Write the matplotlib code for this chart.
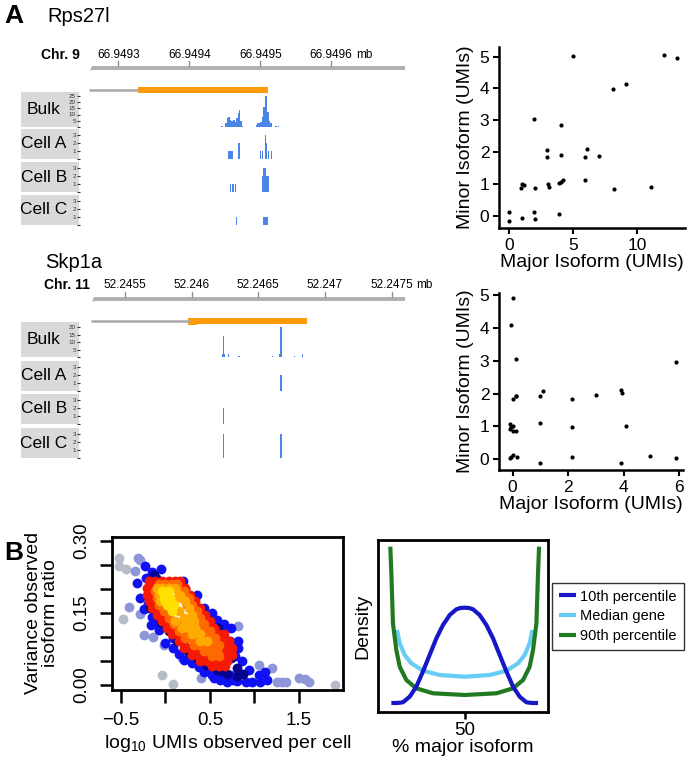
import numpy as np
import matplotlib.pyplot as plt
from matplotlib.patches import Rectangle, Polygon

plt.rcParams['font.family'] = ['Liberation Sans', 'DejaVu Sans']
plt.rcParams['mathtext.fontset'] = 'custom'
plt.rcParams['mathtext.rm'] = 'Liberation Sans'
plt.rcParams['mathtext.it'] = 'Liberation Sans:italic'

W, H = 689, 761
fig = plt.figure(figsize=(W / 100, H / 100), dpi=100)

BAR_BLUE = '#4a86e8'
ORANGE = '#ff9a0a'
AXIS_GREY = '#aeb1b1'
LINE_GREY = '#a9a9a9'
BOX_GREY = '#d9d9d9'

# ---------------- data: Rps27l (chr 9, bp) ----------------
rps_view = [66949246, 66949711]
rps_axis = [66949263, 66949704]
rps_ticks = [66949300, 66949400, 66949500, 66949600]
rps_tick_labels = ['66.9493', '66.9494', '66.9495', '66.9496']
rps_tx = [66949258, 66949511]
rps_exon = [66949328, 66949511]
rps_exon_thick = [66949328, 66949362]

rps_bulk_pos = [66949446, 66949452, 66949454, 66949456, 66949458, 66949460, 66949461,
                66949463, 66949465, 66949467, 66949469, 66949471, 66949473, 66949474,
                66949495, 66949497, 66949499, 66949501, 66949503, 66949505, 66949507,
                66949508, 66949509, 66949511, 66949513, 66949515, 66949516, 66949522,
                66949526]
rps_bulk_cov = [1, 3, 7, 8, 6, 5, 5, 6, 4, 7, 11, 14, 5, 1,
                2, 3, 3, 4, 8, 16, 21, 25, 19, 12, 5, 3, 2, 1, 1]

rps_a_start = [66949454, 66949469, 66949499, 66949502, 66949506, 66949508, 66949511, 66949515]
rps_a_width = [8, 3, 2, 2.5, 1.5, 2, 1.5, 1.5]
rps_a_umis = [1, 2, 1, 1, 3, 2, 1, 1]
rps_b_start = [66949457, 66949460, 66949462, 66949465, 66949502, 66949504, 66949506,
               66949508, 66949510]
rps_b_width = [1.3, 1.3, 1.3, 1.3, 2, 2, 2, 2, 2]
rps_b_umis = [1, 1, 1, 1, 2, 3, 3, 2, 2]
rps_c_start = [66949466, 66949504]
rps_c_width = [1.3, 7.5]
rps_c_umis = [1, 1]

# ---------------- data: Skp1a (chr 11, bp) ----------------
skp_view = [52245162, 52247638]
skp_axis = [52245267, 52247600]
skp_ticks = [52245500, 52246000, 52246500, 52247000, 52247500]
skp_tick_labels = ['52.2455', '52.246', '52.2465', '52.247', '52.2475']
skp_tx = [52245245, 52246865]
skp_exon = [52245988, 52246865]
skp_exon_thick = [52245975, 52246040]

skp_bulk_pos = [52246228, 52246237, 52246245, 52246275, 52246355, 52246605,
                52246660, 52246670, 52246768, 52246833]
skp_bulk_cov = [2, 14, 2, 2, 1, 1, 2, 20, 1, 2]
skp_a_pos = [52246670]
skp_a_umis = [2]
skp_b_pos = [52246237]
skp_b_umis = [2]
skp_c_pos = [52246237, 52246670]
skp_c_umis = [3, 3]

# ---------------- data: isoform scatters ----------------
rps_major = [0, 0, 1.0, 0.9, 1.0, 1.17, 2.0, 1.9, 1.9, 2.0, 2.95, 2.95, 3.0, 3.13, 3.9, 4.07,
             4.07, 3.86, 4.07, 4.2, 5.0, 5.9, 5.9, 6.08, 7.05, 8.1, 8.17, 9.1, 11.1, 12.1, 13.1]
rps_minor = [0.14, -0.15, -0.05, 0.87, 1.0, 0.97, 0.87, 3.06, 0.14, -0.09, 2.07, 1.86, 1.0, 0.92,
             0.08, 2.86, 1.92, 1.03, 1.08, 1.13, 5.03, 1.13, 1.86, 2.09, 1.88, 3.97, 0.85, 4.14,
             0.92, 5.05, 4.95]
skp_major = [0.02, -0.05, 0.12, 0.02, 0.12, 0.14, -0.1, -0.05, 0.0, -0.1, 0.02, 0.12, -0.05,
             0.02, -0.1, 0.17, 0.98, 0.98, 1.0, 1.1, 2.15, 2.15, 2.15, 3.0, 3.92, 3.94, 4.1,
             3.92, 4.96, 5.88, 5.88]
skp_minor = [4.89, 4.09, 3.06, 1.84, 1.94, 1.91, 1.07, 0.99, 1.03, 0.91, 0.87, 0.87, 0.08, 0.13,
             0.03, 0.06, -0.1, 1.11, 1.94, 2.08, 1.84, 0.97, 0.06, 1.97, 2.11, 2.02, 1.02, -0.1,
             0.1, 2.95, 0.03]

# ---------------- data: panel B variance vs UMIs, by density level ----------------
grey_x = [-0.52, -0.52, -0.44, -0.48, -0.04, 0.08, 1.90]
grey_y = [0.265, 0.247, 0.242, 0.138, 0.021, 0.002, 0.001]
pale_x = [-0.31, -0.28, -0.34, -0.41, -0.28, -0.245, -0.144, -0.02, 1.047, 1.197, 1.25, 1.31,
          1.35, 1.50, 1.57, 1.61, 0.40, 0.185, 0.815]
pale_y = [0.265, 0.259, 0.238, 0.162, 0.148, 0.104, 0.099, 0.083, 0.042, 0.035, 0.006, 0.006,
          0.006, 0.014, 0.013, 0.007, 0.015, 0.056, 0.122]
blue_x = [-0.227, -0.152, -0.047, -0.22, -0.32, 0.193, -0.283, -0.245, -0.152, -0.076, 0.354,
          0.429, 0.52, 0.579, 0.654, 0.729, 0.815, 0.82, 0.86, 0.935, 1.047, 1.12, 1.14, 1.06,
          0.97, 0.9, 0.8, 0.69, 0.61, 0.522, 0.43, 0.38, 0.268, 0.21, 0.15, 0.08, 0.0, 0.08,
          -0.16, 0.298, 0.74, 0.66, 0.47, 0.55, 0.62, 0.72, 0.76, -0.2, -0.11, 0.3, 0.78]
blue_y = [0.247, 0.235, 0.242, 0.223, 0.2125, 0.216, 0.18, 0.157, 0.141, 0.115, 0.188, 0.16,
          0.15, 0.136, 0.112, 0.092, 0.091, 0.077, 0.049, 0.032, 0.021, 0.026, 0.011, 0.007,
          0.007, 0.007, 0.009, 0.007, 0.011, 0.021, 0.028, 0.038, 0.06, 0.053, 0.065, 0.077,
          0.087, 0.097, 0.125, 0.181, 0.119, 0.126, 0.03, 0.015, 0.025, 0.02, 0.01, 0.168,
          0.13, 0.045, 0.06]
navy_x = [-0.13, -0.11, -0.17, -0.05, 0.04, 0.13, 0.24, 0.36, 0.47, 0.58, 0.69, 0.80, 0.87,
          0.80, 0.74, 0.66, 0.59, 0.49, 0.40, 0.31, 0.22, -0.1, 0.0, 0.3, 0.55, 0.64]
navy_y = [0.228, 0.222, 0.16, 0.132, 0.112, 0.091, 0.073, 0.057, 0.042, 0.032, 0.023, 0.018,
          0.022, 0.035, 0.056, 0.094, 0.119, 0.136, 0.157, 0.174, 0.2, 0.145, 0.125, 0.066,
          0.04, 0.03]
red_x = [-0.189, -0.114, -0.039, 0.036, 0.110, 0.167,
         -0.208, -0.133, 0.167, 0.223,
         -0.208, -0.152, 0.242, 0.279,
         -0.189, -0.133, 0.298, 0.335,
         -0.152, -0.077, 0.354, 0.392,
         -0.096, -0.039, 0.392, 0.448,
         -0.039, 0.017, 0.448, 0.504,
         0.017, 0.092, 0.485, 0.541,
         0.073, 0.148, 0.541, 0.597, 0.654,
         0.148, 0.204, 0.597, 0.654, 0.710,
         0.204, 0.279, 0.335, 0.635, 0.691, 0.747,
         0.298, 0.373, 0.429, 0.672, 0.747,
         0.392, 0.466, 0.522, 0.597, 0.691,
         0.522, 0.597, 0.672]
red_y = [0.216] * 6 + [0.202] * 4 + [0.188] * 4 + [0.174] * 4 + [0.160] * 4 + [0.146] * 4 + \
        [0.133] * 4 + [0.119] * 4 + [0.105] * 5 + [0.091] * 5 + [0.077] * 6 + [0.063] * 5 + \
        [0.049] * 5 + [0.039] * 3
orange_x = [-0.077, -0.002, 0.073, 0.129,
            -0.114, 0.148, 0.204,
            -0.096, 0.204, 0.260,
            -0.077, 0.242, 0.298,
            -0.020, 0.298, 0.354,
            0.036, 0.335, 0.392,
            0.092, 0.148, 0.373, 0.429,
            0.148, 0.204, 0.279, 0.373, 0.448, 0.504,
            0.223, 0.298, 0.373, 0.448, 0.522, 0.560,
            0.317, 0.392, 0.466, 0.541, 0.597,
            0.429, 0.504, 0.579,
            0.522, 0.597]
orange_y = [0.209] * 4 + [0.195] * 3 + [0.181] * 3 + [0.167] * 3 + [0.153] * 3 + [0.140] * 3 + \
           [0.126] * 4 + [0.112] * 6 + [0.098] * 6 + [0.084] * 5 + [0.070] * 3 + [0.060] * 2
gold_x = [-0.096, -0.039, 0.036, 0.110, -0.077, 0.167, -0.058, 0.223, 0.129, 0.260, 0.148,
          0.298, 0.204, 0.110, 0.317, 0.260, 0.223, 0.185, 0.260, 0.335, 0.298, 0.392, 0.392,
          0.466, 0.317]
gold_y = [0.202, 0.202, 0.202, 0.202, 0.188, 0.188, 0.174, 0.174, 0.181, 0.160, 0.153, 0.146,
          0.140, 0.133, 0.133, 0.133, 0.126, 0.119, 0.119, 0.119, 0.105, 0.105, 0.091, 0.091,
          0.112]
yellow_x = [-0.039, 0.036, -0.020, 0.054, 0.017, 0.092, 0.073, 0.000]
yellow_y = [0.195, 0.195, 0.181, 0.181, 0.167, 0.167, 0.153, 0.174]

# ---------------- data: panel B density curves ----------------
p10_x = [0, 4, 7.9, 12.5, 17, 21.5, 26.1, 30.7, 35.2, 39.8, 44.3, 47, 50, 53, 55.7, 60.2,
         64.8, 69.3, 73.9, 78.5, 83, 87.5, 92.1, 96, 100]
p10_y = [0.0, 0.0, 0.007, 0.063, 0.163, 0.313, 0.48, 0.647, 0.78, 0.88, 0.937, 0.95, 0.953,
         0.95, 0.937, 0.88, 0.78, 0.647, 0.48, 0.313, 0.163, 0.063, 0.007, 0.0, 0.0]
med_x = [3.8, 5.7, 9.1, 13.6, 21.5, 32.9, 50, 67.1, 78.5, 86.4, 90.9, 94.3, 96.2]
med_y = [0.73, 0.597, 0.48, 0.397, 0.323, 0.28, 0.263, 0.28, 0.323, 0.397, 0.48, 0.597, 0.73]
p90_x = [-0.7, 0, 1.1, 3.4, 5.7, 10.2, 17, 28.4, 50, 71.6, 83, 89.8, 94.3, 96.6, 98.9, 100, 100.7]
p90_y = [1.563, 1.297, 0.797, 0.53, 0.363, 0.23, 0.147, 0.097, 0.08, 0.097, 0.147, 0.23,
         0.363, 0.53, 0.797, 1.297, 1.563]


def px_axes(x0, y0, x1, y1):
    return fig.add_axes([x0 / W, 1 - y1 / H, (x1 - x0) / W, (y1 - y0) / H])


def header(y0, y1, view, axis, ticks, labels, tx, exon, thick, lab_y, ruler_y, gene_y):
    ax = px_axes(80, y0, 410, y1)
    ax.set_xlim(view)
    ax.set_ylim(y1, y0)  # pixel rows, top down
    ax.axis('off')
    bp = (view[1] - view[0]) / 330.0
    ax.plot(axis, [ruler_y, ruler_y], color=AXIS_GREY, lw=2.8, solid_capstyle='butt')
    ax.add_patch(Polygon([[axis[0], ruler_y - 1.5], [axis[0] - 2 * bp, ruler_y + 3],
                          [axis[0] + 9 * bp, ruler_y + 1.5]], closed=True,
                         color=AXIS_GREY, lw=0))
    for t, l in zip(ticks, labels):
        ax.plot([t, t], [ruler_y - 6.5, ruler_y - 1.5], color='#8f9292', lw=1)
        ax.text(t, lab_y, l, ha='center', va='center', fontsize=8.5)
    ax.annotate('mb', xy=(ticks[-1], lab_y), xytext=(18, 0), textcoords='offset points',
                ha='left', va='center', fontsize=8.5)
    ax.plot([tx[0], exon[0]], [gene_y, gene_y], color=LINE_GREY, lw=1.8, solid_capstyle='butt')
    ax.add_patch(Rectangle((exon[0], gene_y - 2.6), exon[1] - exon[0], 5.2, color=ORANGE, lw=0))
    ax.add_patch(Rectangle((thick[0], gene_y - 3.5), thick[1] - thick[0], 7, color=ORANGE, lw=0))


def track(y0, y1, view, pos, vals, width, ymax, yticks, label, align='center'):
    ax = px_axes(80, y0, 410, y1)
    ax.bar(pos, vals, width=width, align=align, color=BAR_BLUE, linewidth=0)
    ax.set_xlim(view)
    ax.set_ylim(0, ymax)
    for s in ax.spines.values():
        s.set_visible(False)
    ax.patch.set_visible(False)
    ax.set_xticks([])
    ax.set_yticks(yticks)
    ax.set_yticklabels(['' if t == 0 else str(t) for t in yticks], fontsize=4.5)
    ax.tick_params(axis='y', length=2.5, width=0.8, pad=0.5, colors='#333333')
    fig.add_artist(Rectangle((21 / W, 1 - y1 / H), 58 / W, (y1 - y0) / H,
                             transform=fig.transFigure, facecolor=BOX_GREY,
                             edgecolor='none', zorder=-1))
    fig.text(44 / W, 1 - (y0 + y1) / 2 / H, label, ha='center', va='center', fontsize=12.5)


# ---------------- panel A: genome tracks ----------------
fig.text(4 / W, 1 - 16 / H, 'A', fontsize=19, weight='bold', va='center')
fig.text(47 / W, 1 - 16 / H, 'Rps27l', fontsize=14.5, va='center')
fig.text(80 / W, 1 - 55 / H, 'Chr. 9', fontsize=10, weight='bold', ha='right', va='center')
header(42, 98, rps_view, rps_axis, rps_ticks, rps_tick_labels, rps_tx, rps_exon,
       rps_exon_thick, 55, 67.5, 90)
cell_ticks = [0, 1, 2, 3]
track(92, 127, rps_view, rps_bulk_pos, rps_bulk_cov, 2, 28, [0, 5, 10, 15, 20, 25], 'Bulk')
track(129, 159, rps_view, rps_a_start, rps_a_umis, rps_a_width, 3.75, cell_ticks, 'Cell A', 'edge')
track(162, 192, rps_view, rps_b_start, rps_b_umis, rps_b_width, 3.75, cell_ticks, 'Cell B', 'edge')
track(195, 225, rps_view, rps_c_start, rps_c_umis, rps_c_width, 3.75, cell_ticks, 'Cell C', 'edge')

fig.text(45 / W, 1 - 263 / H, 'Skp1a', fontsize=14.5, va='center')
fig.text(90 / W, 1 - 285 / H, 'Chr. 11', fontsize=10, weight='bold', ha='right', va='center')
header(272, 330, skp_view, skp_axis, skp_ticks, skp_tick_labels, skp_tx, skp_exon,
       skp_exon_thick, 285, 298.5, 321)
track(322, 357, skp_view, skp_bulk_pos, skp_bulk_cov, 8, 23.5, [0, 5, 10, 15, 20], 'Bulk')
track(361, 391, skp_view, skp_a_pos, skp_a_umis, 8, 3.75, cell_ticks, 'Cell A')
track(394, 424, skp_view, skp_b_pos, skp_b_umis, 8, 3.75, cell_ticks, 'Cell B')
track(428, 458, skp_view, skp_c_pos, skp_c_umis, 8, 3.75, cell_ticks, 'Cell C')


# ---------------- panel A: isoform scatters ----------------
def iso_scatter(box, xs, ys, xlim, ylim, xticks):
    ax = px_axes(*box)
    ax.scatter(xs, ys, s=9, color='black', linewidths=0)
    ax.set_xlim(xlim)
    ax.set_ylim(ylim)
    ax.set_xticks(xticks)
    ax.set_yticks([0, 1, 2, 3, 4, 5])
    ax.spines['top'].set_visible(False)
    ax.spines['right'].set_visible(False)
    for s in ('left', 'bottom'):
        ax.spines[s].set_linewidth(1.8)
    ax.tick_params(direction='out', length=4, width=1.5, labelsize=12.5, pad=3)
    ax.set_xlabel('Major Isoform (UMIs)', fontsize=14, labelpad=1)
    ax.set_ylabel('Minor Isoform (UMIs)', fontsize=14, labelpad=4)


iso_scatter((499, 47, 685, 228), rps_major, rps_minor, (-0.8, 13.75), (-0.37, 5.3), [0, 5, 10])
iso_scatter((499, 293, 683, 470), skp_major, skp_minor, (-0.49, 6.14), (-0.32, 5.05), [0, 2, 4, 6])

# ---------------- panel B ----------------
fig.text(4 / W, 1 - 553 / H, 'B', fontsize=19, weight='bold', va='center')

axb = px_axes(112, 537, 343, 690)
layers = [(grey_x, grey_y, '#b7bdc8'), (pale_x, pale_y, '#8e95d8'), (blue_x, blue_y, '#1010f5'),
          (navy_x, navy_y, '#05058f'), (red_x, red_y, '#f41a05'), (orange_x, orange_y, '#ff6a00'),
          (gold_x, gold_y, '#ffaa00'), (yellow_x, yellow_y, '#ffe000')]
for xs, ys, col in layers:
    axb.scatter(xs, ys, s=50, color=col, linewidths=0)
axb.set_xlim(-0.6, 1.995)
axb.set_ylim(-0.0104, 0.3077)
axb.set_xticks([-0.5, 0, 0.5, 1.0, 1.5])
axb.set_xticklabels(['\u22120.5', '', '0.5', '', '1.5'])
axb.set_yticks([0, 0.05, 0.1, 0.15, 0.2, 0.25, 0.3])
axb.set_yticklabels(['0.00', '', '', '0.15', '', '', '0.30'], rotation=90, va='center')
for s in axb.spines.values():
    s.set_linewidth(2)
axb.tick_params(direction='out', length=9, width=1.8, labelsize=13.5, pad=7)
axb.set_xlabel('log$_{10}$ UMIs observed per cell', fontsize=14, labelpad=3)
fig.text(42 / W, 1 - 613 / H, 'Variance observed\nisoform ratio', rotation=90, ha='center',
         va='center', fontsize=14, multialignment='center', linespacing=1.05)

axd = px_axes(378, 540, 548, 712)
lmed, = axd.plot(med_x, med_y, color='#66cdf5', lw=3, solid_capstyle='butt')
l90, = axd.plot(p90_x, p90_y, color='#217a21', lw=3, solid_capstyle='butt')
l10, = axd.plot(p10_x, p10_y, color='#1717c8', lw=3, solid_capstyle='butt')
axd.set_xlim(-9.1, 106.8)
axd.set_ylim(-0.09, 1.63)
axd.set_xticks([50])
axd.set_yticks([])
for s in axd.spines.values():
    s.set_linewidth(2)
axd.tick_params(direction='out', length=5, width=1.8, labelsize=13.5, pad=2)
axd.set_xlabel('% major isoform', fontsize=14, labelpad=0)
axd.set_ylabel('Density', fontsize=14, labelpad=5)

fig.legend([l10, lmed, l90], ['10th percentile', 'Median gene', '90th percentile'],
           loc='upper left', bbox_to_anchor=(552 / W, 1 - 583 / H), fontsize=10.5,
           frameon=True, fancybox=False, edgecolor='black', borderaxespad=0,
           handlelength=1.2, handletextpad=0.3, labelspacing=0.4, borderpad=0.45)

fig.savefig('out.png', dpi=100)
